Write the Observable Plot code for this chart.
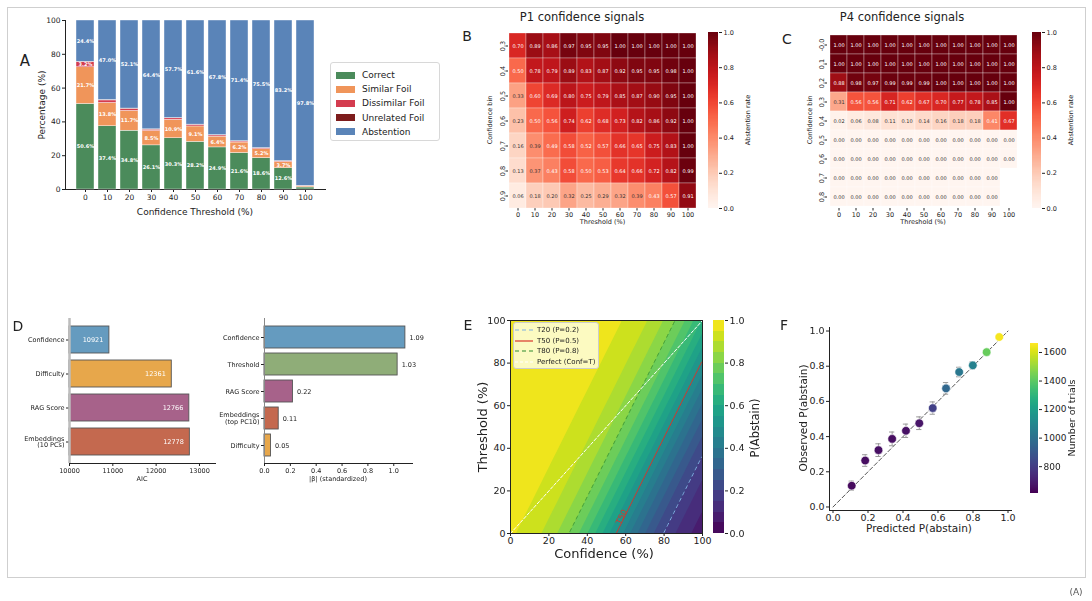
<!DOCTYPE html>
<html><head><meta charset="utf-8">
<script src="https://cdn.jsdelivr.net/npm/d3@7"></script>
<script src="https://cdn.jsdelivr.net/npm/@observablehq/plot@0.6"></script>
<style>
body{margin:0;background:#fff;font-family:"DejaVu Sans",sans-serif;}
#root{position:relative;width:1092px;height:601px;overflow:hidden;background:#fff;}
.lbl{position:absolute;white-space:nowrap;color:#222;line-height:1;}
svg{-webkit-font-smoothing:antialiased;}
</style></head><body><div id="root"></div>
<script>
// ---------- Panel A data ----------
const thresholdsA = [0,10,20,30,40,50,60,70,80,90,100];
const categoriesA = ["Correct","Similar Foil","Dissimilar Foil","Unrelated Foil","Abstention"];
const colorsA = ["#4b8b5b","#f0955a","#d43c4f","#7d1c1c","#5a84b8"];
const correctA    = [50.6,37.4,34.8,26.1,30.3,28.2,24.9,21.6,18.6,12.6,1.2];
const similarA    = [21.7,13.8,11.7,8.5,10.9,9.1,6.4,6.2,5.2,3.7,0.6];
const dissimilarA = [3.2,1.5,1.2,0.8,0.9,0.9,0.7,0.6,0.5,0.4,0.3];
const unrelatedA  = [0.1,0.3,0.2,0.2,0.2,0.2,0.2,0.2,0.2,0.1,0.1];
const abstentionA = [24.4,47.0,52.1,64.4,57.7,61.6,67.8,71.4,75.5,83.2,97.8];

// ---------- Panels B / C data ----------
const thresholdsHeat = [0,10,20,30,40,50,60,70,80,90,100];
const binsB = ["0.3","0.4","0.5","0.6","0.7","0.8","0.9"];
const valuesB = [
  [0.70,0.89,0.86,0.97,0.95,0.95,1.00,1.00,1.00,1.00,1.00],
  [0.50,0.78,0.79,0.89,0.83,0.87,0.92,0.95,0.95,0.98,1.00],
  [0.33,0.60,0.69,0.80,0.75,0.79,0.85,0.87,0.90,0.95,1.00],
  [0.23,0.50,0.56,0.74,0.62,0.68,0.73,0.82,0.86,0.92,1.00],
  [0.16,0.39,0.49,0.58,0.52,0.57,0.66,0.65,0.75,0.83,1.00],
  [0.13,0.37,0.43,0.58,0.50,0.53,0.64,0.66,0.72,0.82,0.99],
  [0.06,0.18,0.20,0.32,0.25,0.29,0.32,0.39,0.43,0.57,0.91]
];
const binsC = ["-0.0","0.1","0.2","0.3","0.4","0.5","0.6","0.7","0.8"];
const valuesC = [
  [1.00,1.00,1.00,1.00,1.00,1.00,1.00,1.00,1.00,1.00,1.00],
  [1.00,1.00,1.00,1.00,1.00,1.00,1.00,1.00,1.00,1.00,1.00],
  [0.88,0.98,0.97,0.99,0.99,0.99,1.00,1.00,1.00,1.00,1.00],
  [0.31,0.56,0.56,0.71,0.62,0.67,0.70,0.77,0.78,0.85,1.00],
  [0.02,0.06,0.08,0.11,0.10,0.14,0.16,0.18,0.18,0.41,0.67],
  [0.00,0.00,0.00,0.00,0.00,0.00,0.00,0.00,0.00,0.00,0.00],
  [0.00,0.00,0.00,0.00,0.00,0.00,0.00,0.00,0.00,0.00,0.00],
  [0.00,0.00,0.00,0.00,0.00,0.00,0.00,0.00,0.00,0.00,null],
  [0.00,0.00,0.00,0.00,0.00,0.00,0.00,0.00,0.00,0.00,null]
];

// ---------- Panel D data ----------
const featuresAIC = ["Confidence","Difficulty","RAG Score","Embeddings\n(10 PCs)"];
const valuesAIC = [10921,12361,12766,12778];
const colorsAIC = ["#659bbf","#e7a74b","#a7628a","#c4694f"];
const aicBaseline = 10000;
const featuresBeta = ["Confidence","Threshold","RAG Score","Embeddings\n(top PC10)","Difficulty"];
const valuesBeta = [1.09,1.03,0.22,0.11,0.05];
const colorsBeta = ["#659bbf","#8fad78","#a7628a","#c4694f","#e7a74b"];

// ---------- Panel E model (logistic) ----------
const modelIntercept = 3.10, modelConfCoef = -0.0563, modelThrCoef = 0.0311;
const contourStep = 0.05;
const refLines = [
  {name:"T20 (P=0.2)", p:0.2, color:"#7fb0e0", dash:"4,3"},
  {name:"T50 (P=0.5)", p:0.5, color:"#d9342b", dash:null},
  {name:"T80 (P=0.8)", p:0.8, color:"#2f8a2f", dash:"4,3"}
];
const perfectLine = [0,100];
const t50LabelThreshold = 5;

// ---------- Panel F data ----------
const predictedF = [0.107,0.184,0.260,0.338,0.417,0.493,0.570,0.646,0.721,0.799,0.878,0.950];
const observedF  = [0.121,0.264,0.323,0.387,0.433,0.476,0.562,0.674,0.767,0.805,0.880,0.966];
const errorF     = [0.026,0.033,0.036,0.039,0.038,0.036,0.035,0.033,0.027,0.021,0.014,0.010];
const trialsF    = [640,650,655,650,660,670,810,965,1030,1070,1420,1650];
const trialsDomain = [612,1663];

// ---------- helpers ----------
const FONT = '"DejaVu Sans", sans-serif';
const root = document.getElementById("root");
function st(size){ return {fontFamily:FONT, fontSize:size+"px", color:"#222", background:"none", overflow:"visible"}; }
function place(svg, left, top, layer){ svg.style.position="absolute"; svg.style.left=left+"px"; svg.style.top=top+"px"; if(layer) svg.style.willChange="transform"; root.appendChild(svg); }
function label(text, x, y, size, rot, extra){
  const d=document.createElement("div"); d.className="lbl"; d.textContent=text;
  d.style.left=x+"px"; d.style.top=y+"px"; d.style.fontSize=size+"px";
  d.style.transform = rot ? "translate(-50%,-50%) rotate(-90deg)" : "translate(-50%,-50%)";
  if(extra) Object.assign(d.style, extra);
  root.appendChild(d); return d;
}
function colorbar({left, top, height, marginTop, marginBottom, barWidth, domain, scheme, ticks, format, fontSize, bands}){
  const [lo,hi]=domain; let slices;
  if(bands){ slices = bands.slice(0,-1).map((b,i)=>({y1:b,y2:bands[i+1],c:(b+bands[i+1])/2})); }
  else { const n=150; slices=d3.range(n).map(i=>({y1:lo+(hi-lo)*i/n, y2:lo+(hi-lo)*(i+1)/n, c:lo+(hi-lo)*(i+0.5)/n})); }
  const svg = Plot.plot({
    width: barWidth+40, height, marginLeft:0, marginRight:40, marginTop, marginBottom,
    style: st(fontSize),
    x:{domain:[0,1], axis:null},
    y:{domain:[lo,hi], axis:"right", ticks, tickFormat:format, tickSize:3, tickPadding:2, label:null},
    color:{type:"linear", scheme, domain:[lo,hi]},
    marks:[Plot.rect(slices,{x1:0,x2:1,y1:"y1",y2:"y2",fill:"c",shapeRendering:"crispEdges"})]
  });
  place(svg,left,top);
}

// outer border
const border=document.createElement("div");
Object.assign(border.style,{position:"absolute",left:"7px",top:"7px",width:"1077px",height:"569px",border:"1px solid #cfcfcf"});
root.appendChild(border);

// ---------- Panel A ----------
const seriesA=[correctA,similarA,dissimilarA,unrelatedA,abstentionA];
const rowsA = categoriesA.flatMap((c,i)=>thresholdsA.map((t,j)=>({thr:t,cat:c,val:seriesA[i][j]})));
place(Plot.plot({
  width:335, height:210, marginLeft:65, marginRight:10, marginTop:20, marginBottom:21,
  style: st(7.5),
  x:{type:"band", domain:thresholdsA, paddingInner:0.19, paddingOuter:0.4, label:null, tickSize:3, tickPadding:2, line:true},
  y:{domain:[0,100], ticks:[0,20,40,60,80,100], label:null, tickSize:3, tickPadding:2, line:true},
  color:{domain:categoriesA, range:colorsA},
  marks:[
    Plot.barY(rowsA,{x:"thr", y:"val", fill:"cat", order:categoriesA, stroke:"white", strokeWidth:0.4}),
    Plot.text(rowsA, Plot.stackY({x:"thr", y:"val", z:"cat", order:categoriesA,
      text:d=>d.val>3 ? d.val.toFixed(1)+"%" : "", fill:"white", fontWeight:"bold", fontSize:5}))
  ]
}),0,0);
label("A",25,61,15);
label("Percentage (%)",42,105,9,true);
label("Confidence Threshold (%)",195,212,9);
// legend A
const legA=document.createElement("div");
Object.assign(legA.style,{position:"absolute",left:"330px",top:"62px",width:"108px",height:"77px",border:"1px solid #d8d8d8",borderRadius:"3px",background:"#fff"});
root.appendChild(legA);
categoriesA.forEach((c,i)=>{
  const y=75+i*14.2;
  const p=document.createElement("div");
  Object.assign(p.style,{position:"absolute",left:"336px",top:(y-3.5)+"px",width:"19px",height:"7px",background:colorsA[i]});
  root.appendChild(p);
  label(c,362,y,9,false,{transform:"translate(0,-50%)"});
});

// ---------- Panels B, C ----------
function heatmap(bins, vals, left, marginLeft, width, title, titleX, letter, letterX, letterY, cbLeft, cbWidth, binLabelX){
  const cells = bins.flatMap((b,i)=>thresholdsHeat.map((t,j)=>({t,b,v:vals[i][j]}))).filter(d=>d.v!=null);
  place(Plot.plot({
    width, height:225, marginLeft, marginRight:3, marginTop:32, marginBottom:17,
    style: st(6.5),
    x:{type:"band", domain:thresholdsHeat, padding:0, tickSize:2.5, tickPadding:1.5, label:null},
    y:{type:"band", domain:bins, padding:0, tickSize:2.5, tickPadding:1.5, tickRotate:-90, label:null},
    color:{type:"linear", scheme:"reds", domain:[0,1]},
    marks:[
      Plot.cell(cells,{x:"t",y:"b",fill:"v",stroke:"white",strokeWidth:0.5,strokeOpacity:0.6}),
      Plot.text(cells,{filter:d=>d.v>0.4,x:"t",y:"b",text:d=>d.v.toFixed(2),fill:"white",fontSize:5}),
      Plot.text(cells,{filter:d=>d.v<=0.4,x:"t",y:"b",text:d=>d.v.toFixed(2),fill:"#333",fontSize:5})
    ]
  }), left, 0);
  colorbar({left:cbLeft, top:0, height:225, marginTop:32, marginBottom:17, barWidth:cbWidth, domain:[0,1], scheme:"reds",
            ticks:[0,0.2,0.4,0.6,0.8,1.0], format:d3.format(".1f"), fontSize:6.5});
  label(title,titleX,18,11.5);
  label(letter,letterX,letterY,14);
  label("Confidence bin",binLabelX,120,6.5,true);
  label("Threshold (%)",left+marginLeft+(width-marginLeft-3)/2,222,6.5);
  label("Abstention rate",cbLeft+cbWidth+30,120,6.5,true);
}
heatmap(binsB, valuesB, 455, 53, 245, "P1 confidence signals", 582, "B", 467, 36, 708, 10, 490);
heatmap(binsC, valuesC, 775, 52, 247, "P4 confidence signals", 902, "C", 787, 39, 1032, 9, 810);

// ---------- Panel D ----------
const rowsAIC = featuresAIC.map((f,i)=>({f,v:valuesAIC[i],c:colorsAIC[i]}));
place(Plot.plot({
  width:225, height:185, marginLeft:69, marginRight:10, marginTop:18, marginBottom:22,
  style: st(6.5),
  x:{domain:[aicBaseline,13370], ticks:[10000,11000,12000,13000], tickFormat:"d", tickSize:3, tickPadding:1.5, label:null, line:true},
  y:{type:"band", domain:featuresAIC, paddingInner:0.2, paddingOuter:0.2, axis:null},
  marks:[
    Plot.axisY({tickSize:3, tickFormat:()=>"", label:null}),
    Plot.text(featuresAIC,{y:d=>d, text:d=>d, frameAnchor:"left", dx:-5, textAnchor:"end", fill:"#222", fontSize:6.5}),
    Plot.barX(rowsAIC,{y:"f", x1:aicBaseline, x2:"v", fill:"c", stroke:"#555", strokeWidth:0.9}),
    Plot.ruleX([aicBaseline],{stroke:"#bdbdbd", strokeWidth:2.5}),
    Plot.text(rowsAIC,{y:"f", x:"v", text:d=>String(d.v), dx:-6, textAnchor:"end", fill:"white", fontSize:6.5})
  ]
}),0,300,true);
const rowsBeta = featuresBeta.map((f,i)=>({f,v:valuesBeta[i],c:colorsBeta[i]}));
place(Plot.plot({
  width:242, height:185, marginLeft:64, marginRight:30, marginTop:18, marginBottom:22,
  style: st(6.5),
  x:{domain:[0,1.145], ticks:[0,0.2,0.4,0.6,0.8,1.0], tickFormat:d3.format(".1f"), tickSize:3, tickPadding:1.5, label:null, line:true},
  y:{type:"band", domain:featuresBeta, paddingInner:0.2, paddingOuter:0.2, axis:null},
  marks:[
    Plot.axisY({tickSize:3, tickFormat:()=>"", label:null}),
    Plot.text(featuresBeta,{y:d=>d, text:d=>d, frameAnchor:"left", dx:-5, textAnchor:"end", fill:"#222", fontSize:6.5}),
    Plot.barX(rowsBeta,{y:"f", x:"v", fill:"c", stroke:"#555", strokeWidth:0.9}),
    Plot.ruleX([0],{stroke:"#888", strokeWidth:1}),
    Plot.text(rowsBeta,{y:"f", x:"v", text:d=>d.v.toFixed(2), dx:4, textAnchor:"start", fill:"#222", fontSize:6.5})
  ]
}),200,300,true);
label("D",18,326,14);
label("AIC",142,479,6.5);
label("|β| (standardized)",338,479,6.5);

// ---------- Panel E ----------
const pAbstain = (c,t)=>1/(1+Math.exp(-(modelIntercept+modelConfCoef*c+modelThrCoef*t)));
const levels = d3.range(0,1+1e-9,contourStep);
const logit = p=>Math.log(p/(1-p));
const t50Conf = (logit(0.5)-modelIntercept-modelThrCoef*t50LabelThreshold)/modelConfCoef;
place(Plot.plot({
  width:252, height:250, marginLeft:55, marginRight:5, marginTop:20, marginBottom:17,
  style: st(9.5),
  x:{domain:[0,100], ticks:[0,20,40,60,80,100], tickSize:3, tickPadding:1, label:null},
  y:{domain:[0,100], ticks:[0,20,40,60,80,100], tickSize:3, tickPadding:2, label:null},
  color:{type:"linear", scheme:"viridis", domain:[-contourStep/2, 1-contourStep/2]},
  marks:[
    Plot.contour({fill:pAbstain, x1:0, x2:100, y1:0, y2:100, thresholds:levels, stroke:"none"}),
    ...refLines.map(r=>Plot.contour({value:pAbstain, x1:0, x2:100, y1:0, y2:100, thresholds:[r.p], fill:"none",
       stroke:r.color, strokeWidth:1, strokeDasharray:r.dash, strokeOpacity: r.p===0.8?0.75:1})),
    Plot.line(perfectLine.map(v=>({v})),{x:"v", y:"v", stroke:"white", strokeWidth:1, strokeDasharray:"3,2"}),
    Plot.text([t50LabelThreshold],{x:()=>t50Conf, y:d=>d, text:()=>"T50", rotate:-64, fill:"#d9342b", fontSize:8, dy:-6}),
    Plot.frame({stroke:"#222"})
  ]
}),455,300);
colorbar({left:713, top:300, height:250, marginTop:20, marginBottom:17, barWidth:11, domain:[0,1], scheme:"viridis",
          ticks:[0,0.2,0.4,0.6,0.8,1.0], format:d3.format(".1f"), fontSize:9.5, bands:levels});
label("E",468,325,14);
label("Threshold (%)",482,427,13,true);
label("Confidence (%)",604,553,13);
label("P(Abstain)",756,428,11.5,true);
// legend E
const legE=document.createElement("div");
Object.assign(legE.style,{position:"absolute",left:"513px",top:"322px",width:"84px",height:"45px",border:"1px solid #ccc",borderRadius:"3px",background:"rgba(255,255,235,0.8)"});
root.appendChild(legE);
const legItems=[...refLines.map(r=>({name:r.name,color:r.color,dash:r.dash})),{name:"Perfect (Conf=T)",color:"#ffffff",dash:"3,2"}];
legItems.forEach((it,i)=>{
  const y=330+i*10.5;
  const s=document.createElementNS("http://www.w3.org/2000/svg","svg");
  s.setAttribute("width","18"); s.setAttribute("height","4");
  Object.assign(s.style,{position:"absolute",left:"515px",top:(y-2)+"px"});
  const l=document.createElementNS("http://www.w3.org/2000/svg","line");
  l.setAttribute("x1","0");l.setAttribute("x2","18");l.setAttribute("y1","2");l.setAttribute("y2","2");
  l.setAttribute("stroke",it.color);l.setAttribute("stroke-width","1.2");
  if(it.dash) l.setAttribute("stroke-dasharray",it.dash);
  s.appendChild(l); root.appendChild(s);
  label(it.name,537,y,7,false,{transform:"translate(0,-50%)"});
});

// ---------- Panel F ----------
const rowsF = predictedF.map((p,i)=>({p,o:observedF[i],e:errorF[i],n:trialsF[i]}));
place(Plot.plot({
  width:241, height:230, marginLeft:54, marginRight:5, marginTop:27, marginBottom:20,
  style: st(9.5),
  x:{domain:[-0.02,1.02], ticks:[0,0.2,0.4,0.6,0.8,1.0], tickFormat:d3.format(".1f"), tickSize:3, tickPadding:1, label:null, line:true},
  y:{domain:[-0.02,1.02], ticks:[0,0.2,0.4,0.6,0.8,1.0], tickFormat:d3.format(".1f"), tickSize:3, tickPadding:2, label:null, line:true},
  color:{type:"linear", scheme:"viridis", domain:trialsDomain},
  marks:[
    Plot.line([0,1].map(v=>({v})),{x:"v",y:"v",stroke:"#555",strokeWidth:1,strokeDasharray:"4,2.5"}),
    Plot.ruleX(rowsF,{x:"p", y1:d=>d.o-d.e, y2:d=>d.o+d.e, stroke:"#999", strokeWidth:1}),
    Plot.ruleY(rowsF,{y:d=>d.o-d.e, x1:d=>d.p-0.015, x2:d=>d.p+0.015, stroke:"#999", strokeWidth:1}),
    Plot.ruleY(rowsF,{y:d=>d.o+d.e, x1:d=>d.p-0.015, x2:d=>d.p+0.015, stroke:"#999", strokeWidth:1}),
    Plot.dot(rowsF,{x:"p", y:"o", fill:"n", r:4.3, stroke:"white", strokeWidth:0.6})
  ]
}),775,300);
colorbar({left:1030, top:300, height:203, marginTop:43, marginBottom:10, barWidth:8, domain:trialsDomain, scheme:"viridis",
          ticks:[800,1000,1200,1400,1600], format:"d", fontSize:9});
label("F",784,325,14);
label("Observed P(abstain)",803,418,10.5,true);
label("Predicted P(abstain)",919,528,10.5);
label("Number of trials",1072,418,9.5,true);
label("(A)",1076,592,9,false,{color:"#555"});
</script></body></html>
